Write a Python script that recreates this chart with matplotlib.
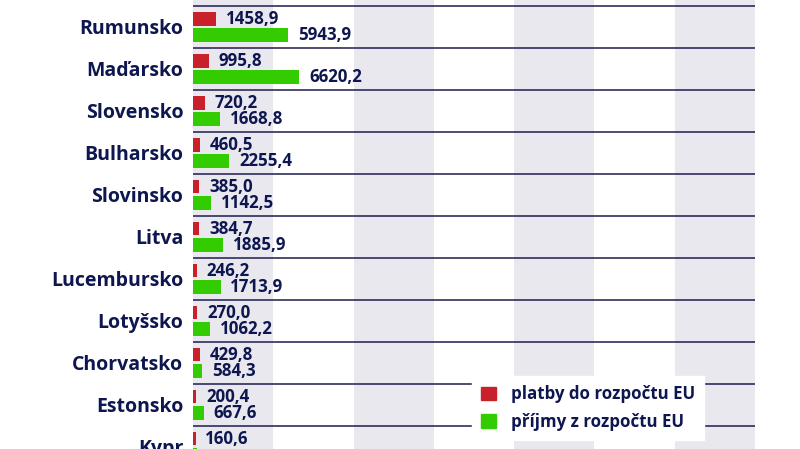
import numpy as np
import matplotlib.pyplot as plt
from matplotlib.patches import Patch

# hodnoty v mil. EUR (prvni radek je v obrazku uriznuty)
zeme = ['Řecko', 'Rumunsko', 'Maďarsko', 'Slovensko', 'Bulharsko', 'Slovinsko',
        'Litva', 'Lucembursko', 'Lotyšsko', 'Chorvatsko', 'Estonsko', 'Kypr']
platby = [1900.0, 1458.9, 995.8, 720.2, 460.5, 385.0,
          384.7, 246.2, 270.0, 429.8, 200.4, 160.6]
prijmy = [4344.2, 5943.9, 6620.2, 1668.8, 2255.4, 1142.5,
          1885.9, 1713.9, 1062.2, 584.3, 667.6, 250.0]

navy = '#0e1650'
red = '#c9212c'
green = '#33cc00'
band = '#e8e8ee'

plt.rcParams['font.family'] = ['Open Sans', 'DejaVu Sans']
plt.rcParams['font.weight'] = 'bold'

fig = plt.figure(figsize=(8, 4.49), dpi=100)
ax = fig.add_axes([193/800, 0, (755-193)/800, 1])

xmax = 35000
for i in range(0, xmax, 10000):
    ax.axvspan(i, i+5000, color=band, zorder=0, lw=0)

y = np.arange(len(zeme))
ax.barh(y-0.2, platby, height=0.33, color=red, zorder=2)
ax.barh(y+0.2, prijmy, height=0.33, color=green, zorder=2)

def fmt(v):
    return ('%.1f' % v).replace('.', ',')

for yi, p, r in zip(y, platby, prijmy):
    ax.annotate(fmt(p), (p, yi-0.2), xytext=(7, 0), textcoords='offset points',
                va='center', ha='left', fontsize=12.2, color=navy, fontweight='bold')
    ax.annotate(fmt(r), (r, yi+0.2), xytext=(7, 0), textcoords='offset points',
                va='center', ha='left', fontsize=12.2, color=navy, fontweight='bold')

for b in np.arange(len(zeme)-1) + 0.5:
    ax.axhline(b, color='#1c1c4f', lw=1.1, zorder=3)

ax.set_yticks(y)
ax.set_yticklabels(zeme, fontsize=14, color=navy, fontweight='bold')
ax.tick_params(axis='y', length=0, pad=7)
ax.set_xticks([])
ax.set_xlim(0, xmax)
ax.set_ylim(11.05, 0.357)
for s in ax.spines.values():
    s.set_visible(False)

handles = [Patch(color=red, label='platby do rozpočtu EU'),
           Patch(color=green, label='příjmy z rozpočtu EU')]
leg = ax.legend(handles=handles, loc='upper left',
                bbox_to_anchor=(472/800, 1-376/449), bbox_transform=fig.transFigure,
                frameon=True, fancybox=False, edgecolor='white', facecolor='white',
                framealpha=1, fontsize=12.2, handlelength=0.85, handleheight=0.85,
                handletextpad=0.9, borderpad=0.55, labelspacing=0.55, borderaxespad=0)
for t in leg.get_texts():
    t.set_color(navy)
    t.set_fontweight('bold')
leg.set_zorder(5)

plt.savefig('out.png', dpi=100)
